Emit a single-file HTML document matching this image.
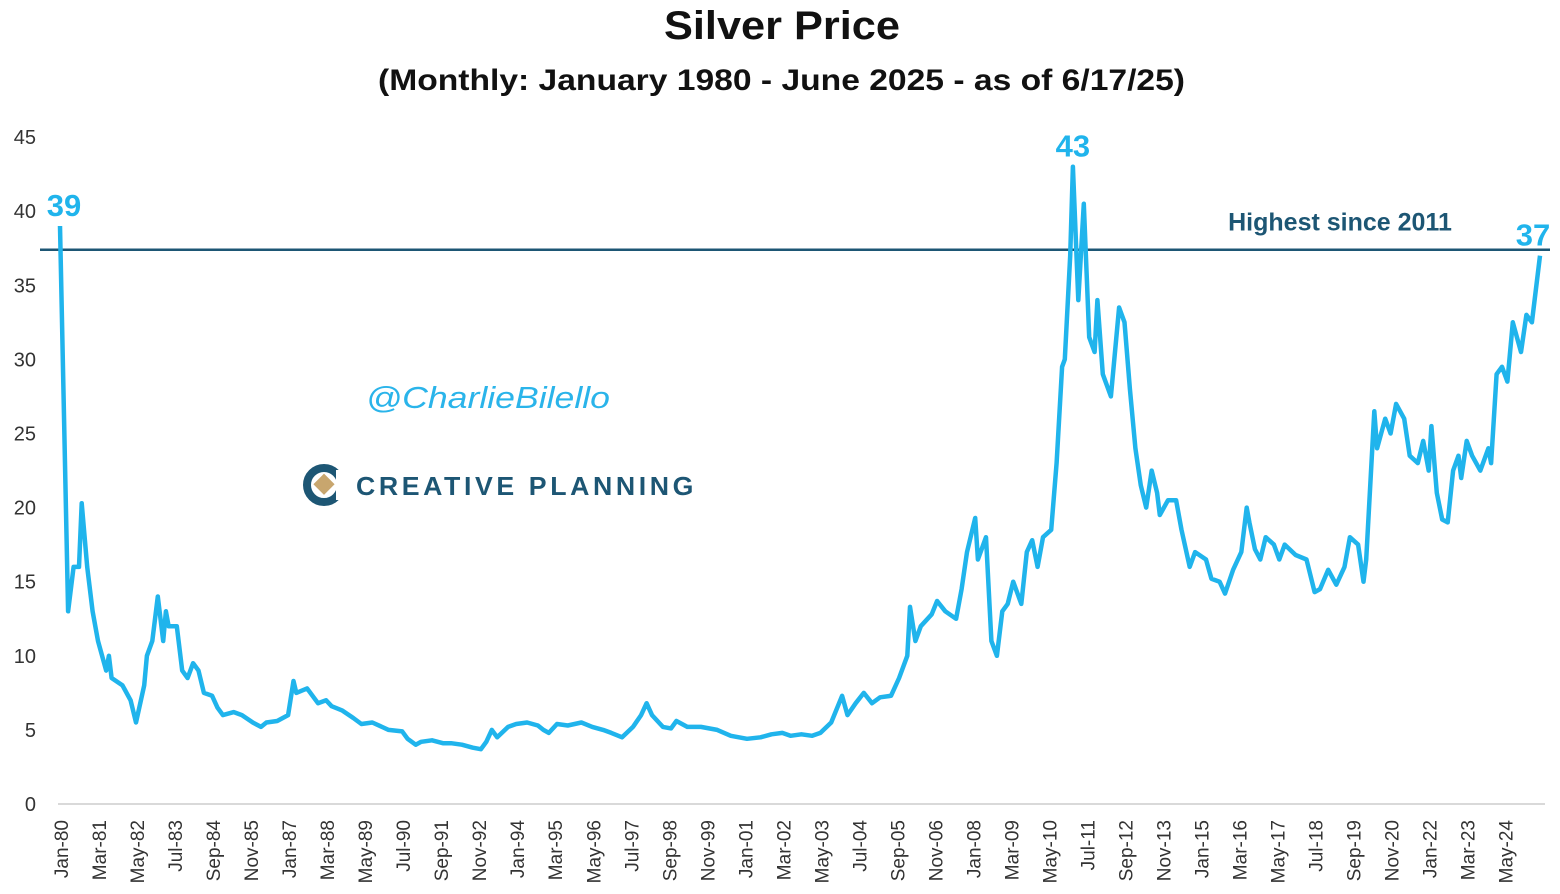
<!DOCTYPE html>
<html><head><meta charset="utf-8">
<style>
html,body{margin:0;padding:0;background:#fff;}
svg{display:block;font-family:"Liberation Sans",sans-serif;}
</style></head>
<body>
<svg id="chart" width="1560" height="894" viewBox="0 0 1560 894" xmlns="http://www.w3.org/2000/svg">
<text x="664" y="39" textLength="236" lengthAdjust="spacingAndGlyphs" font-size="40" font-weight="bold" fill="#111">Silver Price</text>
<text x="378" y="90" textLength="807" lengthAdjust="spacingAndGlyphs" font-size="30" font-weight="bold" fill="#111">(Monthly: January 1980 - June 2025 - as of 6/17/25)</text>
<text x="366" y="408" textLength="244" lengthAdjust="spacingAndGlyphs" font-size="31" font-style="italic" fill="#2ab4ea">@CharlieBilello</text>
<g>
<circle cx="324" cy="485" r="17" fill="none" stroke="#1d5674" stroke-width="8"/>
<rect x="336" y="470" width="12" height="30" fill="#fff"/>
<rect x="316" y="477" width="15" height="15" fill="#c8a66e" transform="rotate(45 324 485)"/>
<text x="356" y="495" textLength="341" lengthAdjust="spacingAndGlyphs" font-size="26" font-weight="bold" letter-spacing="3.5" fill="#1d5674">CREATIVE PLANNING</text>
</g>
<g id="yaxis"></g>
<g id="xaxis"></g>
<line x1="58" y1="804" x2="1545" y2="804" stroke="#d9d9d9" stroke-width="2"/>
<g id="marks"></g>
</svg>
<script>
const yTicks = [0,5,10,15,20,25,30,35,40,45];
const xLabels = ["Jan-80","Mar-81","May-82","Jul-83","Sep-84","Nov-85","Jan-87","Mar-88","May-89","Jul-90","Sep-91","Nov-92","Jan-94","Mar-95","May-96","Jul-97","Sep-98","Nov-99","Jan-01","Mar-02","May-03","Jul-04","Sep-05","Nov-06","Jan-08","Mar-09","May-10","Jul-11","Sep-12","Nov-13","Jan-15","Mar-16","May-17","Jul-18","Sep-19","Nov-20","Jan-22","Mar-23","May-24"];
const months = [0,3,5,7,8,10,12,14,17,18,19,23,26,28,31,32,34,36,38,39,40,43,45,47,49,51,53,56,58,60,64,67,71,74,76,80,84,86,87,91,95,98,100,104,108,111,115,121,126,128,131,133,137,141,144,148,152,155,157,159,161,165,168,172,176,178,180,183,187,192,196,200,203,207,211,214,216,218,222,225,227,231,236,242,247,253,258,262,266,269,273,277,280,284,288,290,293,296,299,302,306,309,312,313,315,317,321,323,326,330,332,334,337,338,341,343,345,347,349,351,354,356,358,360,362,365,367,369,370,372,373,375,377,379,381,382,384,387,390,392,394,396,398,400,402,404,405,408,411,413,416,418,422,424,427,429,432,435,437,438,440,442,444,447,449,451,455,459,462,464,467,470,473,475,478,480,481,484,485,488,490,492,495,497,500,502,504,505,507,509,511,513,515,516,518,520,523,526,527,529,531,533,535,538,540,542,545];
const prices = [39,13,16,16,20.3,16,13,11,9,10,8.5,8,7,5.5,8,10,11,14,11,13,12,12,9,8.5,9.5,9,7.5,7.3,6.5,6,6.2,6,5.5,5.2,5.5,5.6,6,8.3,7.5,7.8,6.8,7,6.6,6.3,5.8,5.4,5.5,5.0,4.9,4.4,4.0,4.2,4.3,4.1,4.1,4.0,3.8,3.7,4.2,5.0,4.5,5.2,5.4,5.5,5.3,5.0,4.8,5.4,5.3,5.5,5.2,5.0,4.8,4.5,5.2,6.0,6.8,6.0,5.2,5.1,5.6,5.2,5.2,5.0,4.6,4.4,4.5,4.7,4.8,4.6,4.7,4.6,4.8,5.5,7.3,6.0,6.8,7.5,6.8,7.2,7.3,8.5,10,13.3,11,12,12.8,13.7,13,12.5,14.5,17,19.3,16.5,18,11,10,13,13.5,15,13.5,17,17.8,16,18,18.5,23,29.5,30,37,43,34,40.5,31.5,30.5,34,29,27.5,33.5,32.5,28,24,21.5,20,22.5,21,19.5,20.5,20.5,18.5,16,17,16.5,15.2,15,14.2,15.8,17,20,19,17.2,16.5,18,17.5,16.5,17.5,16.8,16.5,14.3,14.5,15.8,14.8,16,18,17.5,15,16.5,26.5,24,26,25,27,26,23.5,23,24.5,22.5,25.5,21,19.2,19,22.5,23.5,22,24.5,23.5,22.5,24,23,29,29.5,28.5,32.5,30.5,33,32.5,37];
const refLevel = [37.4];
const callouts = ["39","43","37"];
const calloutMonths = [0,373,545];
const calloutValues = [39,43,37];

const NS="http://www.w3.org/2000/svg";
const X0=60, X1=1540, MMAX=545, Y0=804, PXU=14.82;
function xs(m){return X0+(m/MMAX)*(X1-X0);}
function ys(v){return Y0-v*PXU;}
function mk(tag,attrs,parent,text){const e=document.createElementNS(NS,tag);for(const k in attrs)e.setAttribute(k,attrs[k]);if(text!==undefined)e.textContent=text;parent.appendChild(e);return e;}

const yax=document.getElementById('yaxis');
yTicks.forEach(t=>{
  const e=mk('text',{x:36,y:ys(t)+7,'text-anchor':'end','font-size':20,fill:'#333'},yax,String(t));
  
  
});
const xax=document.getElementById('xaxis');
xLabels.forEach((l,i)=>{
  const x=xs(i*14)+8;
  const e=mk('text',{x:x,y:820,'text-anchor':'end','font-size':19,fill:'#333',transform:'rotate(-90 '+x+' 820)'},xax,l);
  
  
});
const marks=document.getElementById('marks');
const ref=mk('line',{x1:40,x2:1550,y1:ys(refLevel[0]),y2:ys(refLevel[0]),stroke:'#1d5674','stroke-width':2.5},marks);


const refT=mk('text',{x:1340,y:ys(refLevel[0])-19,'text-anchor':'middle','font-size':25,'font-weight':'bold',fill:'#1d5674'},marks,'Highest since 2011');


let d='';
months.forEach((m,i)=>{d+=(i?'L':'M')+xs(m).toFixed(1)+','+ys(prices[i]).toFixed(1);});
const line=mk('path',{d:d,fill:'none',stroke:'#20b4ec','stroke-width':4.5,'stroke-linejoin':'round'},marks);


callouts.forEach((c,i)=>{
  let x=xs(calloutMonths[i]); if(i===0)x+=4; if(i===2)x-=7;
  const e=mk('text',{x:x,y:ys(calloutValues[i])-10,'text-anchor':'middle','font-size':31,'font-weight':'bold',fill:'#20b4ec'},marks,c);
  
  
});
</script>
</body></html>
